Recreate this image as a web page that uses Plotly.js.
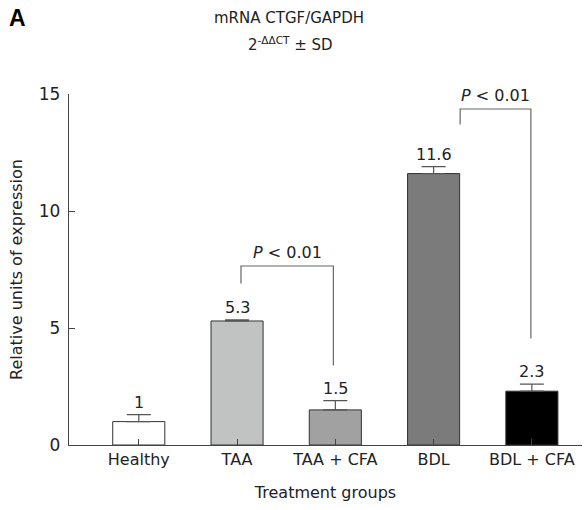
<!DOCTYPE html>
<html>
<head>
<meta charset="utf-8">
<script src="https://cdn.plot.ly/plotly-3.0.1.min.js"></script>
<style>
  html, body { margin: 0; padding: 0; background: #fff; }
  #chart { width: 587px; height: 510px; }
</style>
</head>
<body>
<div id="chart"></div>
<script>
// Relative CTGF mRNA expression (2^-ddCT) per treatment group
const groups = ['Healthy', 'TAA', 'TAA + CFA', 'BDL', 'BDL + CFA'];
const expression = [1, 5.3, 1.5, 11.6, 2.3];
const sd = [0.3, 0.05, 0.4, 0.3, 0.3];
const barColors = ['#ffffff', '#c1c3c2', '#a1a1a1', '#7b7b7b', '#000000'];
const yTicks = [0, 5, 10, 15];

// Significance brackets between groups
const bracketFrom = [1.04, 3.27];
const bracketTo = [1.98, 3.99];
const bracketTop = [7.65, 14.36];
const bracketFromFoot = [6.9, 13.7];
const bracketToFoot = [3.4, 4.55];
const bracketText = ['<i>P</i> &lt; 0.01', '<i>P</i> &lt; 0.01'];

const FONT = 'DejaVu Sans, Verdana, sans-serif';
const INK = '#222';

// Plot area in pixels, used to place the heading
const M = { l: 69, r: 5, t: 94, b: 65 };
const W = 587, H = 510;
const plotW = W - M.l - M.r;
const plotH = H - M.t - M.b;
const px = x => (x - M.l) / plotW;
const py = y => (H - M.b - y) / plotH;

const bars = {
  type: 'bar',
  x: groups,
  y: expression,
  width: 0.53,
  marker: { color: barColors, line: { color: '#333', width: 1 } },
  error_y: {
    type: 'data', symmetric: false, array: sd, arrayminus: sd.map(() => 0),
    color: '#555', thickness: 1.2, width: 12
  },
  hoverinfo: 'x+y'
};

const shapes = [];
const annotations = [];
bracketFrom.forEach((x0, i) => {
  const x1 = bracketTo[i];
  shapes.push({
    type: 'path', xref: 'x', yref: 'y',
    path: `M ${x0} ${bracketFromFoot[i]} L ${x0} ${bracketTop[i]} L ${x1} ${bracketTop[i]} L ${x1} ${bracketToFoot[i]}`,
    line: { color: '#666', width: 1.2 }
  });
  annotations.push({
    xref: 'x', yref: 'y', x: (x0 + x1) / 2, y: bracketTop[i],
    yanchor: 'bottom', yshift: 2, showarrow: false,
    text: bracketText[i], font: { family: FONT, size: 16, color: INK }
  });
});

// Value labels above each error cap
groups.forEach((g, i) => {
  annotations.push({
    xref: 'x', yref: 'y', x: i, y: expression[i] + sd[i],
    yanchor: 'bottom', yshift: 1, showarrow: false,
    text: String(expression[i]), font: { family: FONT, size: 16, color: INK }
  });
});

// Panel letter and two-line heading
annotations.push(
  { xref: 'paper', yref: 'paper', x: px(7), y: py(18), xanchor: 'left', yanchor: 'middle',
    showarrow: false, text: '<b>A</b>',
    font: { family: 'Liberation Sans, Arial, sans-serif', size: 23, color: '#000' } },
  { xref: 'paper', yref: 'paper', x: px(289), y: py(18), xanchor: 'center', yanchor: 'middle',
    showarrow: false, text: 'mRNA CTGF/GAPDH', font: { family: FONT, size: 15, color: INK } },
  { xref: 'paper', yref: 'paper', x: px(290), y: py(44), xanchor: 'center', yanchor: 'middle',
    showarrow: false, text: '2<sup>-ΔΔCT</sup> ± SD', font: { family: FONT, size: 15, color: INK } }
);

const layout = {
  width: W, height: H,
  margin: M,
  paper_bgcolor: '#fff', plot_bgcolor: '#fff',
  showlegend: false,
  font: { family: FONT, size: 15, color: INK },
  xaxis: {
    type: 'category', range: [-0.71, 4.51],
    showline: true, linecolor: '#444', linewidth: 1.2,
    ticks: 'inside', ticklen: 6, tickcolor: '#444',
    showgrid: false, zeroline: false,
    tickfont: { family: FONT, size: 16, color: INK },
    title: { text: 'Treatment groups', standoff: 18, font: { family: FONT, size: 16, color: INK } }
  },
  yaxis: {
    range: [0, 15], tickvals: yTicks,
    showline: true, linecolor: '#444', linewidth: 1.2,
    ticks: 'inside', ticklen: 6, tickcolor: '#444',
    ticklabelstandoff: 4,
    showgrid: false, zeroline: false,
    tickfont: { family: FONT, size: 17, color: INK },
    title: { text: 'Relative units of expression', standoff: 12, font: { family: FONT, size: 16, color: INK } }
  },
  shapes: shapes,
  annotations: annotations
};

Plotly.newPlot('chart', [bars], layout, { displayModeBar: false, staticPlot: true });
</script>
</body>
</html>
